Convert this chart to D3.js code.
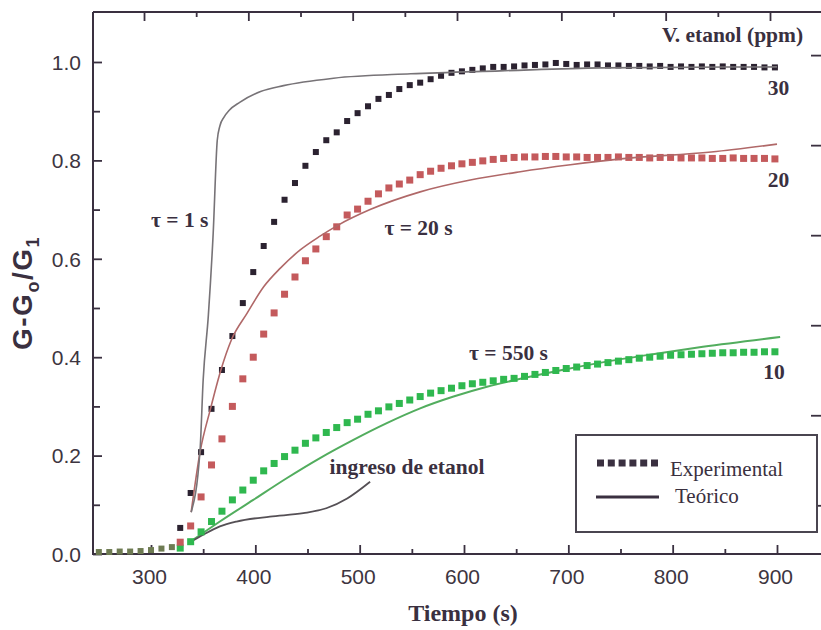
<!DOCTYPE html>
<html><head><meta charset="utf-8">
<script src="https://cdn.jsdelivr.net/npm/d3@7"></script>
<style>body{margin:0;background:#fff}</style>
</head><body>
<svg id="c" width="821" height="630"></svg>
<script>
// ---------- data ----------
const times = [328,338,348,358,368,378,388,398,408,418,428,438,448,458,468,478,488,498,508,518,528,538,548,558,568,578,588,598,608,618,628,638,648,658,668,678,688,698,708,718,728,738,748,758,768,778,788,798,808,818,828,838,848,858,868,878,888,898];
const exp30 = [0.053,0.124,0.207,0.295,0.374,0.443,0.51,0.573,0.626,0.675,0.72,0.754,0.789,0.817,0.841,0.857,0.88,0.896,0.91,0.925,0.933,0.945,0.953,0.958,0.965,0.972,0.978,0.981,0.984,0.987,0.99,0.99,0.991,0.993,0.994,0.995,0.998,0.996,0.994,0.995,0.995,0.993,0.993,0.992,0.992,0.991,0.992,0.99,0.991,0.99,0.991,0.99,0.991,0.99,0.99,0.99,0.989,0.989];
const exp20 = [0.024,0.057,0.116,0.181,0.234,0.30,0.356,0.40,0.447,0.49,0.528,0.563,0.596,0.62,0.645,0.665,0.689,0.701,0.717,0.732,0.744,0.752,0.76,0.771,0.778,0.784,0.789,0.793,0.796,0.799,0.802,0.804,0.806,0.807,0.807,0.808,0.808,0.807,0.807,0.806,0.806,0.806,0.807,0.806,0.806,0.805,0.806,0.806,0.805,0.805,0.805,0.804,0.804,0.805,0.804,0.804,0.804,0.803];
const exp10 = [0.012,0.025,0.045,0.066,0.087,0.110,0.130,0.150,0.169,0.184,0.198,0.211,0.225,0.236,0.247,0.257,0.267,0.274,0.284,0.291,0.299,0.306,0.313,0.320,0.327,0.332,0.337,0.342,0.346,0.349,0.352,0.355,0.357,0.361,0.365,0.369,0.373,0.377,0.380,0.383,0.386,0.389,0.392,0.395,0.398,0.400,0.402,0.404,0.405,0.406,0.407,0.408,0.409,0.409,0.410,0.410,0.411,0.411];
const baseTimes = [250,260,270,280,290,300,310,320];
const baseVals = [0.004,0.004,0.005,0.005,0.006,0.008,0.011,0.014];

const tau1T = [338.5,347,350,355,359.6,363.5,366,370,375,385,405,427,475,549,635,731,900];
const tau1V = [0.085,0.211,0.354,0.486,0.652,0.841,0.87,0.888,0.902,0.918,0.94,0.952,0.967,0.976,0.982,0.988,0.99];
const tau20T = [338.5,347,357,367,377,392,408,424,443,462,479,510,558,606,654,702,750,837,900];
const tau20V = [0.085,0.207,0.295,0.374,0.435,0.489,0.543,0.581,0.618,0.646,0.668,0.700,0.736,0.760,0.777,0.791,0.803,0.817,0.833];
const tau550T = [335.7,366,398,430,462,494,526,558,590,622,654,694,734,781,829,903];
const tau550V = [0.022,0.066,0.110,0.154,0.195,0.232,0.266,0.296,0.320,0.340,0.356,0.374,0.390,0.406,0.421,0.441];
const ingresoT = [336,350,366,382,414,446,468,488,510];
const ingresoV = [0.022,0.039,0.056,0.066,0.076,0.083,0.093,0.113,0.147];

const xMajor = [300,400,500,600,700,800,900];
const xMinor = [350,450,550,650,750,850];
const yMajor = [0.0,0.2,0.4,0.6,0.8,1.0];
const yMinor = [0.1,0.3,0.5,0.7,0.9];
const rightTicks = [1.014,0.831,0.648,0.465,0.282,0.099];

// ---------- scales ----------
const svg = d3.select('#c');
const x = d3.scaleLinear().domain([244.4, 939.3]).range([93, 818]);
const y = d3.scaleLinear().domain([0, 1.1016]).range([554, 12]);
const ink = '#3a3040';
const sans = '"Liberation Sans", Arial, sans-serif';
const serif = '"Liberation Serif", "Times New Roman", serif';

// frame
svg.append('line').attr('x1',x.range()[0]).attr('x2',821).attr('y1',y(1.1016)).attr('y2',y(1.1016)).attr('stroke',ink).attr('stroke-width',2);
svg.append('line').attr('x1',x.range()[0]).attr('x2',x.range()[0]).attr('y1',y(1.1016)).attr('y2',y(0)+1).attr('stroke',ink).attr('stroke-width',2);
svg.append('line').attr('x1',x.range()[0]).attr('x2',821).attr('y1',y(0)).attr('y2',y(0)).attr('stroke',ink).attr('stroke-width',2);

// axes via d3
const gB = svg.append('g').attr('transform',`translate(0,${y(0)})`)
  .call(d3.axisBottom(x).tickValues(xMajor).tickSize(-9).tickPadding(15).tickFormat(d3.format('d')));
const gBm = svg.append('g').attr('transform',`translate(0,${y(0)})`)
  .call(d3.axisBottom(x).tickValues(xMinor).tickSize(-5).tickFormat(''));
const gT = svg.append('g').attr('transform',`translate(-7,${y(1.1016)})`)
  .call(d3.axisTop(x).tickValues(xMajor).tickSize(-9).tickFormat(''));
const gTm = svg.append('g').attr('transform',`translate(-7,${y(1.1016)})`)
  .call(d3.axisTop(x).tickValues(xMinor).tickSize(-5).tickFormat(''));
const gL = svg.append('g').attr('transform',`translate(${x.range()[0]},0)`)
  .call(d3.axisLeft(y).tickValues(yMajor).tickSize(-9).tickPadding(12).tickFormat(d3.format('.1f')));
const gLm = svg.append('g').attr('transform',`translate(${x.range()[0]},0)`)
  .call(d3.axisLeft(y).tickValues(yMinor).tickSize(-7).tickFormat(''));
const gR = svg.append('g').attr('transform',`translate(821,0)`)
  .call(d3.axisRight(y).tickValues(rightTicks).tickSize(-10).tickFormat(''));
[gB,gBm,gT,gTm,gL,gLm,gR].forEach(g=>{
  g.select('.domain').remove();
  g.selectAll('.tick line').attr('stroke',ink).attr('stroke-width',1.8);
  g.selectAll('.tick text').attr('fill','#3d3540').attr('font-family',sans).attr('font-size',21);
});
gB.selectAll('.tick text').attr('dy','0.71em').attr('dx',-2);
gL.selectAll('.tick text').attr('dy','0.35em');

// axis labels
svg.append('text').attr('x',463).attr('y',621).attr('text-anchor','middle')
  .attr('font-family',serif).attr('font-weight','bold').attr('font-size',24).attr('fill',ink).text('Tiempo (s)');
const yl = svg.append('text').attr('transform','translate(32,293) rotate(-90)').attr('text-anchor','middle')
  .attr('font-family',sans).attr('font-weight','bold').attr('font-size',28).attr('letter-spacing',1.5).attr('fill',ink);
yl.append('tspan').text('G-G');
yl.append('tspan').attr('font-size',18).attr('dy',7).text('o');
yl.append('tspan').attr('dy',-7).text('/G');
yl.append('tspan').attr('font-size',18).attr('dy',7).text('1');

// lines
const line = d3.line().x(d=>x(d[0])).y(d=>y(d[1])).curve(d3.curveMonotoneX);
const zip = (a,b)=>a.map((v,i)=>[v,b[i]]);
svg.append('path').attr('d',line(zip(tau550T,tau550V))).attr('fill','none').attr('stroke','#52ad5e').attr('stroke-width',2);
svg.append('path').attr('d',line(zip(ingresoT,ingresoV))).attr('fill','none').attr('stroke','#555055').attr('stroke-width',1.8);

// squares
function squares(ts, vs, color, s){
  svg.append('g').selectAll('rect').data(zip(ts,vs)).join('rect')
    .attr('x',d=>x(d[0])-s/2).attr('y',d=>y(d[1])-s/2).attr('width',s).attr('height',s).attr('fill',color);
}
squares(baseTimes, baseVals, '#6e7b52', 6);
squares(times, exp10, '#2fb84f', 7);
squares(times, exp20, '#c45a5c', 7);
squares(times, exp30, '#2b2230', 6);

svg.append('path').attr('d',line(zip(tau20T,tau20V))).attr('fill','none').attr('stroke','#b06868').attr('stroke-width',1.6);
svg.append('path').attr('d',line(zip(tau1T,tau1V))).attr('fill','none').attr('stroke','#777377').attr('stroke-width',1.6);

// annotations
function ann(tx, ty, s){
  svg.append('text').attr('x',x(tx)).attr('y',y(ty)).attr('text-anchor','middle').attr('font-family',serif)
    .attr('font-weight','bold').attr('font-size',21.5).attr('fill',ink).attr('dominant-baseline','central').text(s);
}
ann(327.5,0.679,'τ = 1 s');
ann(556.4,0.663,'τ = 20 s');
ann(642.6,0.409,'τ = 550 s');
ann(545.4,0.177,'ingreso de etanol');
ann(857.4,1.055,'V. etanol (ppm)');
ann(901.4,0.947,'30');
ann(901.4,0.760,'20');
ann(897.1,0.370,'10');

// legend
const lg = svg.append('g');
lg.append('rect').attr('x',576).attr('y',435).attr('width',241).attr('height',97).attr('fill','#fff').attr('stroke','#4a4550').attr('stroke-width',2);
lg.selectAll('rect.s').data([0,1,2,3,4,5]).join('rect').attr('class','s')
  .attr('x',d=>597+d*10.8).attr('y',459.5).attr('width',7).attr('height',7).attr('fill',ink);
lg.append('line').attr('x1',596).attr('x2',659).attr('y1',497).attr('y2',497).attr('stroke',ink).attr('stroke-width',3);
lg.append('text').attr('x',670).attr('y',469).attr('dominant-baseline','central').attr('font-family',serif).attr('font-size',21).attr('fill',ink).text('Experimental');
lg.append('text').attr('x',675).attr('y',496).attr('dominant-baseline','central').attr('font-family',serif).attr('font-size',21).attr('fill',ink).text('Teórico');
</script>
</body></html>
